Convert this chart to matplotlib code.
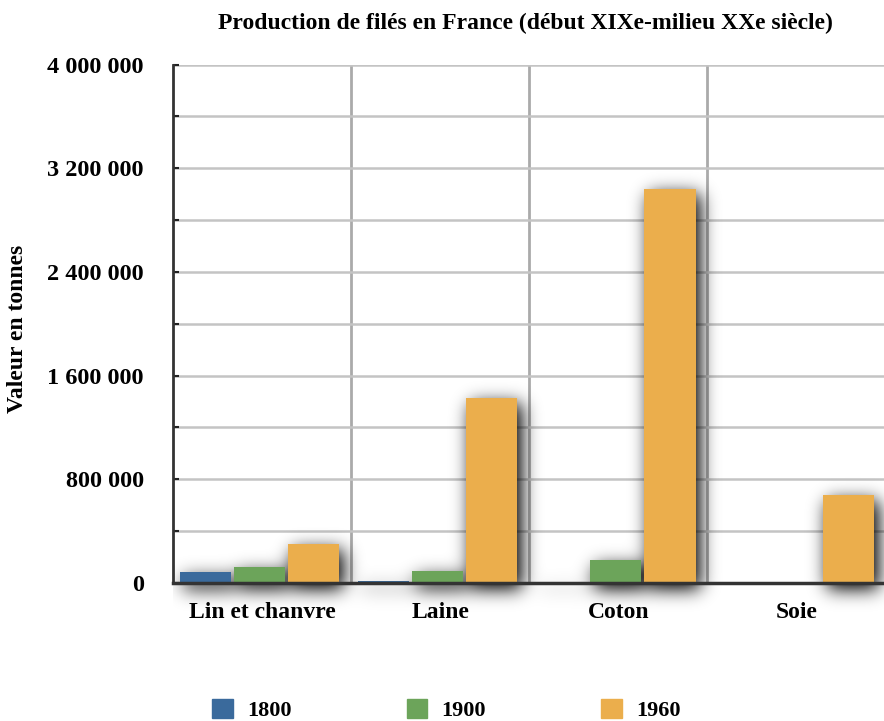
import numpy as np
import matplotlib
matplotlib.use("Agg")
import matplotlib.pyplot as plt
from matplotlib.ticker import MultipleLocator, FuncFormatter
from matplotlib.patches import Patch

plt.rcParams['font.family'] = ['Liberation Serif', 'DejaVu Serif']
plt.rcParams['font.weight'] = 'bold'

categories = ['Lin et chanvre', 'Laine', 'Coton', 'Soie']
years = ['1800', '1900', '1960']
v1800 = [85000, 15000, 5000, 0]
v1900 = [123000, 93000, 177000, 0]
v1960 = [300000, 1430000, 3040000, 680000]
colors = ['#3a6a9c', '#6ca45a', '#ebae4c']

fig = plt.figure(figsize=(8.84, 7.21), dpi=100)
ax = fig.add_axes([0.1957, 0.1914, 0.806, 0.7191])

x = np.arange(len(categories))
step = 0.305
width = 0.287
offsets = [-step - 0.015, -0.015, step - 0.015]
ymax = 4000000

# blurred drop shadow, rasterised on a ~1px grid from the bar geometry
nx, ny_above, ny_below = 780, 535, 50
px_x = 4.0 / 712
px_y = ymax / 518.0
gx = -0.5 + (np.arange(nx) + 0.5) * px_x
gy = -ny_below * px_y + (np.arange(ny_above + ny_below) + 0.5) * px_y
mask = np.zeros((gy.size, gx.size))
dx, dy = 4 * px_x, 6 * px_y
for series, off in zip([v1800, v1900, v1960], offsets):
    for xi, h in zip(x, series):
        if h <= 0:
            continue
        cols = (gx >= xi + off - width / 2 + dx) & (gx <= xi + off + width / 2 + dx)
        rows = (gy >= -dy) & (gy <= h - dy)
        mask[np.ix_(rows, cols)] = 1.0
sigma = 9.0
k = np.arange(-27, 28)
kern = np.exp(-k ** 2 / (2 * sigma ** 2))
kern /= kern.sum()
blur = np.apply_along_axis(lambda r: np.convolve(r, kern, mode='same'), 1, mask)
blur = np.apply_along_axis(lambda c: np.convolve(c, kern, mode='same'), 0, blur)
rgba = np.zeros(blur.shape + (4,))
rgba[..., 3] = np.clip(blur * 1.05, 0, 0.85)
ax.imshow(rgba, extent=[gx[0] - px_x / 2, gx[-1] + px_x / 2, gy[0] - px_y / 2, gy[-1] + px_y / 2],
          origin='lower', aspect='auto', zorder=2, clip_on=False, interpolation='bilinear')

for series, off, c, lab in zip([v1800, v1900, v1960], offsets, colors, years):
    ax.bar(x + off, series, width=width, color=c, linewidth=0, zorder=3, label=lab)

ax.set_xlim(-0.5, 3.5)
ax.set_ylim(0, ymax)
ax.yaxis.set_major_locator(MultipleLocator(800000))
ax.yaxis.set_minor_locator(MultipleLocator(400000))
ax.yaxis.set_major_formatter(FuncFormatter(lambda v, p: f"{int(v):,}".replace(",", " ")))
ax.grid(True, which='both', axis='y', color='#c4c4c4', linewidth=1.8, zorder=0)
for b in [0.5, 1.5, 2.5]:
    ax.axvline(b, color='#aaaaaa', linewidth=2, zorder=1)

ax.set_xticks(x)
ax.set_xticklabels(categories, fontsize=17, fontweight='bold')
ax.tick_params(axis='x', length=0, pad=14)
ax.tick_params(axis='y', which='both', direction='in', length=4, width=1.5, labelsize=17.5, pad=21, color='#222222')
for t in ax.get_yticklabels():
    t.set_fontweight('bold')

for s in ['top', 'right']:
    ax.spines[s].set_visible(False)
ax.spines['left'].set_color('#333333')
ax.spines['left'].set_linewidth(2)
ax.spines['bottom'].set_color('#333333')
ax.spines['bottom'].set_linewidth(2.5)
ax.spines['bottom'].set_zorder(4)

ax.set_ylabel('Valeur en tonnes', fontsize=17, fontweight='bold', va='center')
ax.yaxis.set_label_coords(-0.218, 0.49)
fig.text(0.594, 0.967, 'Production de filés en France (début XIXe-milieu XXe siècle)',
         ha='center', va='center', fontsize=17, fontweight='bold')

handles = [Patch(color=c) for c in colors]
fig.legend(handles, years, loc='center', bbox_to_anchor=(0.505, 0.015), ncol=3, frameon=False,
           handlelength=0.92, handleheight=0.92, handletextpad=0.63,
           columnspacing=5.2, prop={'weight': 'bold', 'size': 16})

fig.savefig('out.png', dpi=100)
